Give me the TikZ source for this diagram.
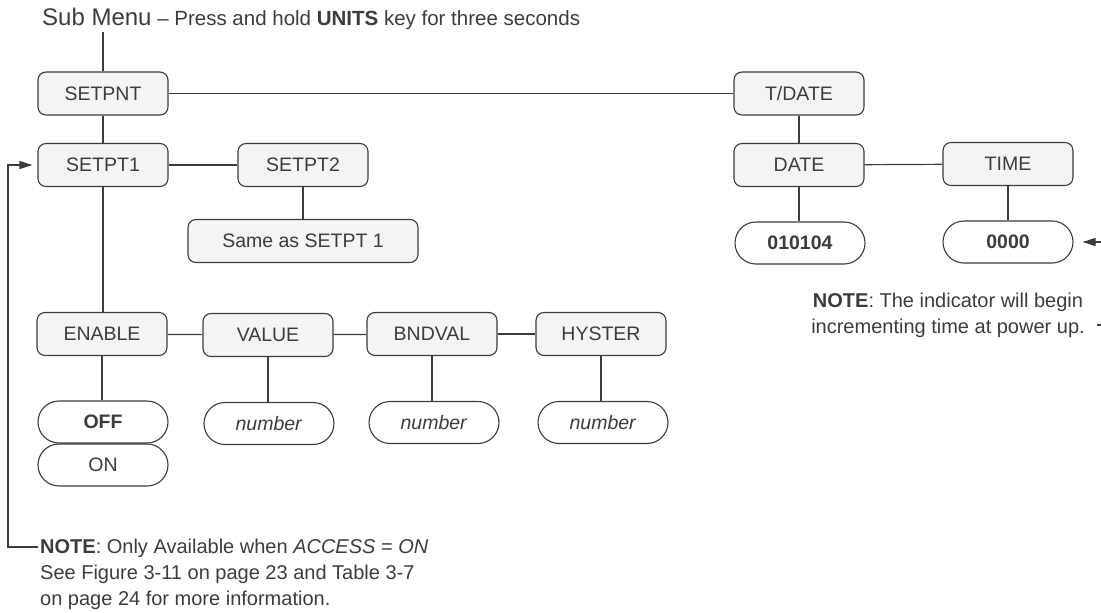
\documentclass[tikz,border=0pt]{standalone}
\usepackage{fontspec}
\setmainfont{Liberation Sans}
\usetikzlibrary{arrows.meta}
\definecolor{ink}{HTML}{3C3C3C}
\definecolor{boxfill}{HTML}{F4F4F4}
\begin{document}
\begin{tikzpicture}[x=1pt,y=-1pt,
  menu/.style={draw=ink, line width=1.1pt, fill=boxfill, rounded corners=8pt, minimum width=130pt, minimum height=43pt, inner sep=0pt, text=ink, font=\fontsize{19.5}{23}\selectfont},
  val/.style={draw=ink, line width=1.1pt, fill=white, rounded corners=21pt, minimum width=130pt, minimum height=42pt, inner sep=0pt, text=ink, font=\fontsize{19.5}{23}\selectfont},
  conn/.style={draw=ink, line width=1.2pt},
  arr/.style={conn, -{Triangle[length=13pt,width=8pt]}},
  txt/.style={inner sep=0pt, text=ink}]
\useasboundingbox (0,0) rectangle (1101,613);

\node[txt, anchor=base west] (title) at (42,25) {\fontsize{24}{28}\selectfont Sub Menu\fontsize{20.5}{24}\selectfont{} – Press and hold \textbf{UNITS} key for three seconds};

\node[menu] (setpnt) at (103,93.5) {SETPNT};
\node[menu] (tdate) at (799,93.5) {T/DATE};
\node[menu] (setpt1) at (103,165) {SETPT1};
\node[menu] (setpt2) at (303,165) {SETPT2};
\node[menu, minimum width=230pt] (same) at (303,241) {Same as SETPT 1};
\node[menu] (date) at (799,165) {DATE};
\node[menu] (time) at (1008,164) {TIME};
\node[val] (d010104) at (800,243) {\textbf{010104}};
\node[val] (t0000) at (1008,242) {\textbf{0000}};
\node[menu] (enable) at (102,334) {ENABLE};
\node[menu] (value) at (268,335) {VALUE};
\node[menu] (bndval) at (432,334) {BNDVAL};
\node[menu] (hyster) at (601,334) {HYSTER};
\node[val] (off) at (103,422) {\textbf{OFF}};
\node[val] (on) at (103,465) {ON};
\node[val] (num1) at (269,423.5) {\textit{number}};
\node[val] (num2) at (434,422.5) {\textit{number}};
\node[val] (num3) at (603,422.5) {\textit{number}};

\node[txt, anchor=base west, font=\fontsize{20}{26}\selectfont] (note1) at (40,553) {\begin{tabular}[t]{@{}l@{}}\textbf{NOTE}: Only Available when \textit{ACCESS} = \textit{ON}\\ See Figure 3-11 on page 23 and Table 3-7\\ on page 24 for more information.\end{tabular}};
\node[txt, anchor=base, font=\fontsize{20}{26}\selectfont] (note2) at (948,307) {\begin{tabular}[t]{@{}c@{}}\textbf{NOTE}: The indicator will begin\\ incrementing time at power up.\end{tabular}};

\coordinate (lp) at (8,547);
\coordinate (n2) at (1097,325);

\draw[conn, shorten <=3pt] (title.south -| setpnt.north) -- (setpnt.north);
\draw[conn] (setpnt) -- (tdate);
\draw[conn] (setpnt) -- (setpt1);
\draw[conn] (setpt1) -- (setpt2);
\draw[conn] (setpt2) -- (same);
\draw[conn] (setpt1.south) -- (setpt1.south |- enable.north);
\draw[conn] (enable) -- (value);
\draw[conn] (value) -- (bndval);
\draw[conn] (bndval) -- (hyster);
\draw[conn] (enable.south) -- (enable.south |- off.north);
\draw[conn] (value.south) -- (value.south |- num1.north);
\draw[conn] (bndval.south) -- (bndval.south |- num2.north);
\draw[conn] (hyster.south) -- (hyster.south |- num3.north);
\draw[conn] (tdate.south) -- (tdate.south |- date.north);
\draw[conn] (date) -- (time);
\draw[conn] (date.south) -- (date.south |- d010104.north);
\draw[conn] (time.south) -- (time.south |- t0000.north);

\draw[arr, shorten <=2pt, shorten >=5pt] (note1.west |- lp) -- (lp) |- (setpt1.west);
\draw[arr, shorten >=9pt] (n2) -- ++(30,0) |- (t0000.east);
\end{tikzpicture}
\end{document}
